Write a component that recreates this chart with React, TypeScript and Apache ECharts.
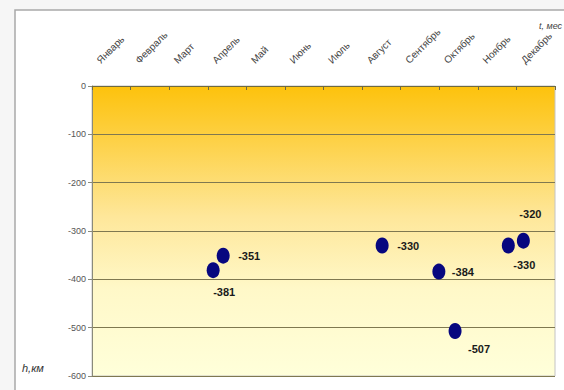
import React, { useEffect, useRef } from "react";
import * as echarts from "echarts";

// Month names along the top axis
const months = [
  "Январь", "Февраль", "Март", "Апрель", "Май", "Июнь",
  "Июль", "Август", "Сентябрь", "Октябрь", "Ноябрь", "Декабрь",
];

// Event time (in months from the start of the year) and depth, km
const eventTime = [3.14, 3.4, 7.52, 8.99, 9.41, 10.79, 11.18];
const eventDepth = [-381, -351, -330, -384, -507, -330, -320];

// Depth axis ticks
const depthMin = -600;
const depthMax = 0;
const depthStep = 100;

// Where each value label sits relative to its dot (dx, dy in px)
const labelOffsets: [number, number][] = [
  [11, 22],
  [26, 0],
  [26, 0],
  [24, 0],
  [24, 18],
  [16, 19],
  [7, -27],
];

export default function App() {
  const ref = useRef<HTMLDivElement>(null);

  useEffect(() => {
    if (!ref.current) return;
    const chart = echarts.init(ref.current, undefined, { renderer: "svg" });

    const points = eventTime.map((t, i) => ({
      value: [t, eventDepth[i]],
      label: { offset: labelOffsets[i] },
    }));

    chart.setOption({
      animation: false,
      backgroundColor: "#f6f6f6",
      graphic: [
        {
          type: "rect",
          z: -10,
          shape: { x: 15, y: 10, width: 620, height: 420 },
          style: { fill: "#ffffff", stroke: "#a9a9a9", lineWidth: 1.5 },
        },
        {
          type: "text",
          left: 22,
          top: 362,
          style: {
            text: "h,км",
            font: "italic 11px Arial",
            fill: "#333333",
          },
        },
        {
          type: "text",
          left: 539,
          top: 21,
          style: {
            text: "t, мес",
            font: "italic 9px Arial",
            fill: "#444444",
          },
        },
      ],
      grid: {
        left: 92,
        top: 86,
        right: 9,
        bottom: 14,
        show: true,
        borderColor: "#c4c4c4",
        borderWidth: 1,
        backgroundColor: {
          type: "linear",
          x: 0,
          y: 0,
          x2: 0,
          y2: 1,
          colorStops: [
            { offset: 0, color: "#fdc20c" },
            { offset: 0.2, color: "#fdd24a" },
            { offset: 0.45, color: "#fee79a" },
            { offset: 0.7, color: "#fff8c8" },
            { offset: 1, color: "#ffffda" },
          ],
        },
      },
      xAxis: [
        {
          type: "value",
          min: 0,
          max: months.length,
          show: false,
        },
        {
          type: "category",
          position: "top",
          boundaryGap: false,
          data: [...months, ""],
          axisLine: { show: true, lineStyle: { color: "#6e6a40", width: 1 } },
          axisTick: {
            show: true,
            inside: true,
            length: 4,
            lineStyle: { color: "#6e6a40" },
          },
          axisLabel: {
            interval: 0,
            rotate: -45,
            align: "left",
            verticalAlign: "top",
            margin: 25,
            padding: [0, 0, 0, 4],
            fontFamily: "Arial",
            fontSize: 10,
            color: "#444444",
          },
          splitLine: { show: false },
        },
      ],
      yAxis: {
        type: "value",
        min: depthMin,
        max: depthMax,
        interval: depthStep,
        axisLine: { show: true, lineStyle: { color: "#8a8a7a" } },
        axisTick: { show: true, length: 4, lineStyle: { color: "#8a8a7a" } },
        axisLabel: {
          margin: 6,
          fontFamily: "Arial",
          fontSize: 9,
          color: "#555555",
        },
        splitLine: { show: true, lineStyle: { color: "#7f7850", width: 1 } },
      },
      series: [
        {
          type: "scatter",
          xAxisIndex: 0,
          yAxisIndex: 0,
          symbol: "circle",
          symbolSize: [13, 16],
          itemStyle: { color: "#07077f", opacity: 1 },
          label: {
            show: true,
            position: "inside",
            formatter: (p: any) => String(p.value[1]),
            fontFamily: "Arial",
            fontWeight: "bold",
            fontSize: 11,
            color: "#1a1a1a",
          },
          data: points,
        },
      ],
    });

    return () => chart.dispose();
  }, []);

  return (
    <div
      ref={ref}
      style={{ position: "fixed", left: 0, top: 0, width: 564, height: 390 }}
    />
  );
}
